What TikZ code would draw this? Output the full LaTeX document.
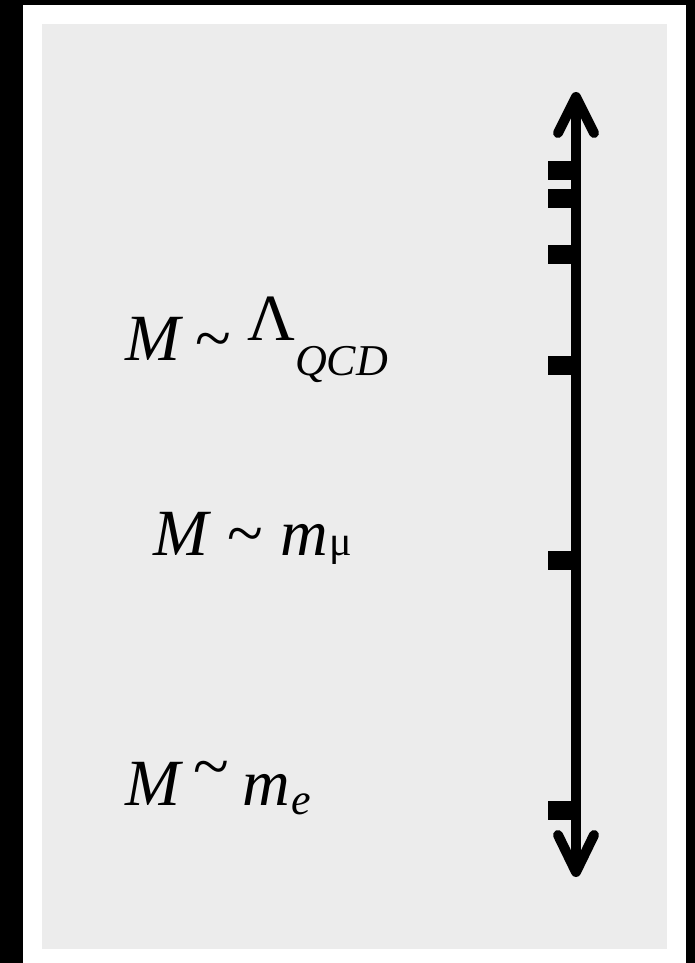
\documentclass[tikz,border=0pt]{standalone}
\usepackage{fontspec}
\setmainfont{Liberation Serif}
\usetikzlibrary{calc}
\definecolor{panel}{HTML}{ECECEC}
\begin{document}
\begin{tikzpicture}[x=1pt,y=-1pt,
  big/.style={inner sep=0pt, outer sep=0pt, anchor=base west, font=\fontsize{66}{70}\selectfont\itshape},
  bigup/.style={inner sep=0pt, outer sep=0pt, anchor=base west, font=\fontsize{66}{70}\selectfont},
  sub/.style={inner sep=0pt, outer sep=0pt, anchor=base west, font=\fontsize{44}{48}\selectfont\itshape},
  subup/.style={inner sep=0pt, outer sep=0pt, anchor=base west, font=\fontsize{42}{46}\selectfont},
  axisline/.style={line width=10pt, line cap=round, line join=round},
  tick/.style={fill=black}]
\fill[black] (0,0) rectangle (695,963);
\fill[white] (23,5) rectangle (686,963);
\fill[panel] (42,24) rectangle (667,949);
\useasboundingbox (0,0) rectangle (695,963);
% axis
\coordinate (top) at (576,97);
\coordinate (bot) at (576,872);
\draw[axisline, line cap=butt] (top) -- (bot);
\draw[axisline] ($(top)+(-18,36)$) -- (top) -- ($(top)+(18,36)$);
\draw[axisline] ($(bot)+(-18,-37)$) -- (bot) -- ($(bot)+(18,-37)$);
% ticks
\foreach \y in {170.5,198.5,254.5,365.5,560.5,810.5}
  \fill[tick] (548,\y-9.5) rectangle (576,\y+9.5);
% label 1
\node[big] (m1) at (125,360) {M};
\node[bigup] (t1) at (195,360) {\textasciitilde};
\node[bigup] (l1) at (247,340) {Λ};
\node[sub] (q1) at (295,375) {QCD};
% label 2
\node[big] (m2) at (153,555) {M};
\node[bigup] (t2) at (227,555) {\textasciitilde};
\node[big] (mm2) at (280,555) {m};
\node[subup] (mu2) at (329,555) {μ};
% label 3
\node[big] (m3) at (125,805) {M};
\node[bigup] (t3) at (193,788) {\textasciitilde};
\node[big] (mm3) at (242,805) {m};
\node[sub] (e3) at (291,814) {e};
\end{tikzpicture}
\end{document}
